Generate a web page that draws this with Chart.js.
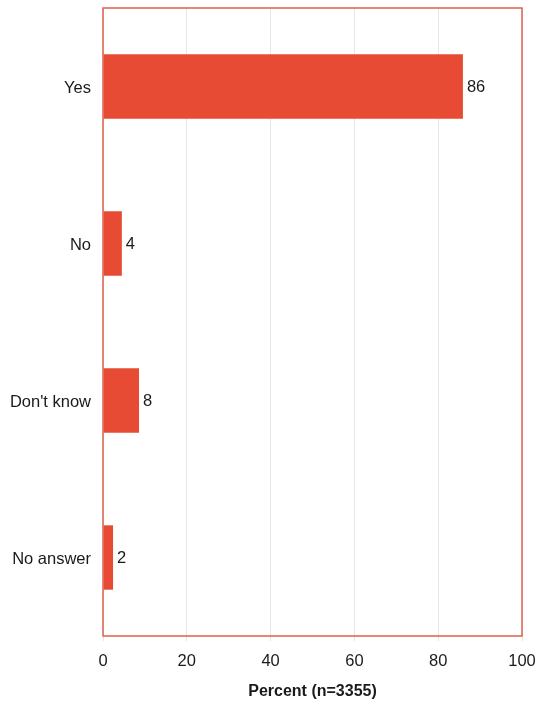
<!DOCTYPE html>
<html>
<head>
<meta charset="utf-8">
<script src="https://cdn.jsdelivr.net/npm/chart.js@4"></script>
<style>
  html, body { margin:0; padding:0; background:#fff; }
  #wrap { width:537px; height:702px; }
</style>
</head>
<body>
<div id="wrap"><canvas id="chart"></canvas></div>
<script>
const categories = ['Yes', 'No', "Don't know", 'No answer'];
const percents = [85.9, 4.5, 8.6, 2.4];
const valueLabels = ['86', '4', '8', '2'];
const xTicks = [0, 20, 40, 60, 80, 100];

const BAR = '#E84B33';
const FONT = 'Liberation Sans, Arial, Helvetica, sans-serif';

// red frame around the plot + value labels at bar ends
const framePlugin = {
  id: 'frame',
  afterDatasetsDraw(chart){
    const {ctx, chartArea:a} = chart;
    ctx.save();
    ctx.strokeStyle = '#E0604F';
    ctx.lineWidth = 1.5;
    ctx.strokeRect(a.left, a.top, a.right - a.left, a.bottom - a.top);
    ctx.fillStyle = '#1a1a1a';
    ctx.font = '16.5px ' + FONT;
    ctx.textBaseline = 'middle';
    chart.getDatasetMeta(0).data.forEach((bar, i) => {
      ctx.fillText(valueLabels[i], bar.x + 4, bar.y + 1);
    });
    ctx.restore();
  }
};

new Chart(document.getElementById('chart'), {
  type:'bar',
  data:{
    labels: categories,
    datasets:[{
      data: percents,
      backgroundColor: BAR,
      borderWidth: 0,
      categoryPercentage: 1,
      barPercentage: 0.41
    }]
  },
  options:{
    indexAxis:'y',
    responsive:true,
    maintainAspectRatio:false,
    animation:false,
    layout:{ padding:{ top:8, right:15, left:0, bottom:0 } },
    plugins:{ legend:{display:false}, tooltip:{enabled:false} },
    scales:{
      x:{
        min:0, max:100,
        afterBuildTicks: s => { s.ticks = xTicks.map(v => ({value:v})); },
        afterFit: s => { s.height = 66; s.paddingLeft = 0; s.paddingRight = 0; },
        grid:{ color:'#E6E6E6', tickLength:5, drawTicks:true },
        border:{ display:false },
        ticks:{ color:'#1a1a1a', font:{family:FONT, size:16.5}, padding:11, maxRotation:0 },
        title:{ display:true, text:'Percent (n=3355)', color:'#1a1a1a',
                font:{family:FONT, size:16, weight:'bold'}, padding:{top:0, bottom:1} }
      },
      y:{
        afterFit: s => { s.width = 103; s.paddingTop = 0; s.paddingBottom = 0; },
        grid:{ display:false },
        border:{ display:false },
        ticks:{ color:'#1a1a1a', font:{family:FONT, size:16.5}, padding:4, labelOffset:2 }
      }
    }
  },
  plugins:[framePlugin]
});
</script>
</body>
</html>
